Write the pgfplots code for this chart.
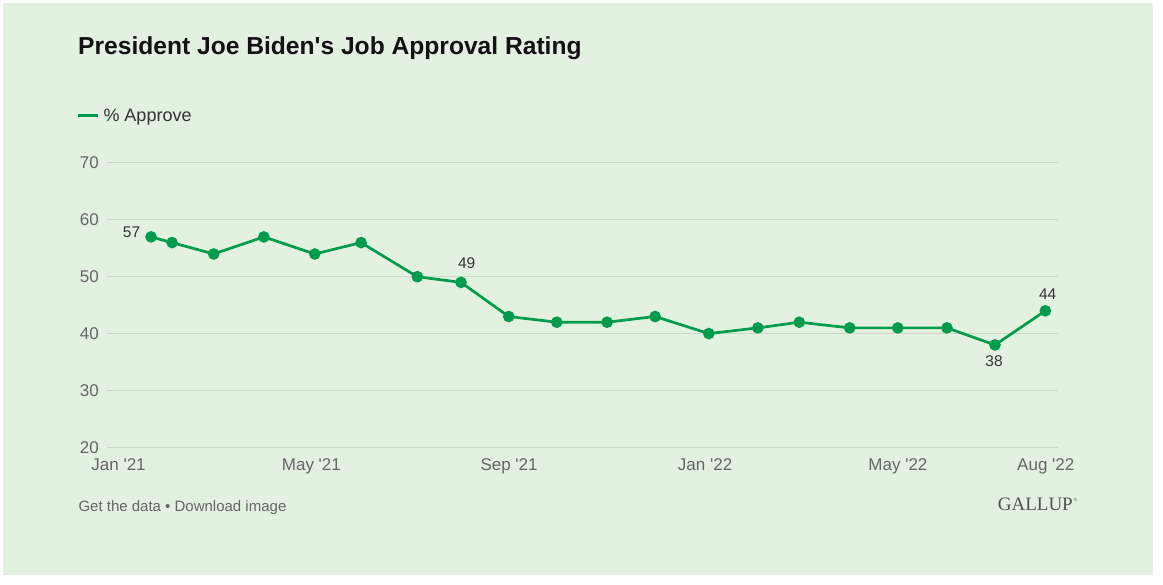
\documentclass[border=0pt]{standalone}
\usepackage{fontspec}
\setmainfont{Liberation Sans}
\newfontfamily\seriffont{Liberation Serif}
\usepackage{pgfplots}
\usepackage{pgfplotstable}
\pgfplotsset{compat=1.18}
\definecolor{bg}{HTML}{E2F1E0}
\definecolor{gallupgreen}{HTML}{009B4D}
\definecolor{gridc}{HTML}{CCD9C9}
\definecolor{axisgray}{HTML}{666666}
\definecolor{labelc}{HTML}{333333}

\pgfplotstableread{
d v
20.2 57
33.3 56
59.2 54
90.4 57
122.1 54
150.9 56
185.9 50
213.1 49
242.8 43
272.7 42
304.0 42
333.9 43
367.3 40
397.8 41
423.6 42
455.0 41
484.9 41
515.5 41
545.4 38
576.7 44
}\approve

\begin{document}
\begin{tikzpicture}
\fill[white] (0pt,0pt) rectangle (1163pt,585pt);
\fill[bg] (3pt,10pt) rectangle (1153pt,582pt);
\begin{axis}[
  at={(107pt,137.7pt)}, anchor=south west,
  width=951pt, height=284.3pt, scale only axis,
  xmin=-7.2, xmax=584.6, ymin=20, ymax=70,
  axis line style={draw=none},
  major tick length=0pt,
  xtick={0,120,243,365,485,577},
  xticklabels={Jan \textquotesingle21, May \textquotesingle21, Sep \textquotesingle21, Jan \textquotesingle22, May \textquotesingle22, Aug \textquotesingle22},
  ytick={20,30,...,70},
  ymajorgrids, grid style={gridc, line width=1pt},
  /pgf/number format/assume math mode=true,
  ticklabel style={font=\fontsize{17}{20}\selectfont, text=axisgray, inner sep=0pt},
  xticklabel style={anchor=north, yshift=-11pt},
  yticklabel style={anchor=east, xshift=-8pt},
  clip=false,
]
\addplot[gallupgreen, line width=2.7pt, mark=*, mark size=4.4pt,
  mark options={solid, fill=gallupgreen, draw=none}]
  table[x=d,y=v]{\approve};
% data labels
\addplot[draw=none, mark=none, forget plot, point meta=y, nodes near coords,
  every node near coord/.append style={anchor=east, inner sep=0pt, xshift=-10.7pt, yshift=5pt,
    font=\fontsize{15.5}{18}\selectfont, text=labelc}]
  coordinates {(20.2,57)};
\addplot[draw=none, mark=none, forget plot, point meta=y, nodes near coords,
  every node near coord/.append style={anchor=south, inner sep=0pt, xshift=5.7pt, yshift=13.4pt,
    font=\fontsize{15.5}{18}\selectfont, text=labelc}]
  coordinates {(213.1,49)};
\addplot[draw=none, mark=none, forget plot, point meta=y, nodes near coords,
  every node near coord/.append style={anchor=north, inner sep=0pt, xshift=-1pt, yshift=-10.4pt,
    font=\fontsize{15.5}{18}\selectfont, text=labelc}]
  coordinates {(545.4,38)};
\addplot[draw=none, mark=none, forget plot, point meta=y, nodes near coords,
  every node near coord/.append style={anchor=south, inner sep=0pt, xshift=2.4pt, yshift=11.3pt,
    font=\fontsize{15.5}{18}\selectfont, text=labelc}]
  coordinates {(576.7,44)};
\end{axis}
% title
\node[anchor=base west, inner sep=0pt, font=\bfseries\fontsize{24.6}{28}\selectfont, text=black!93]
  at (78pt,530.7pt) {President Joe Biden\textquotesingle s Job Approval Rating};
% legend
\draw[gallupgreen, line width=3pt] (78pt,469.3pt) -- (98pt,469.3pt);
\node[anchor=base west, inner sep=0pt, font=\fontsize{18}{21}\selectfont, text=labelc]
  at (103.3pt,463.5pt) {\% Approve};
% footer
\node[anchor=base west, inner sep=0pt, font=\fontsize{15}{18}\selectfont, text=axisgray]
  at (78.3pt,73.3pt) {Get the data • Download image};
\node[anchor=base east, inner sep=0pt, font=\seriffont\fontsize{19}{22}\selectfont, text=black!68]
  at (1073pt,74pt) {GALLUP};
\node[anchor=north west, inner sep=0pt, font=\seriffont\fontsize{5}{6}\selectfont, text=black!68]
  at (1073.5pt,87pt) {®};
\pgfresetboundingbox
\path (0pt,0pt) rectangle (1163pt,585pt);
\end{tikzpicture}
\end{document}
